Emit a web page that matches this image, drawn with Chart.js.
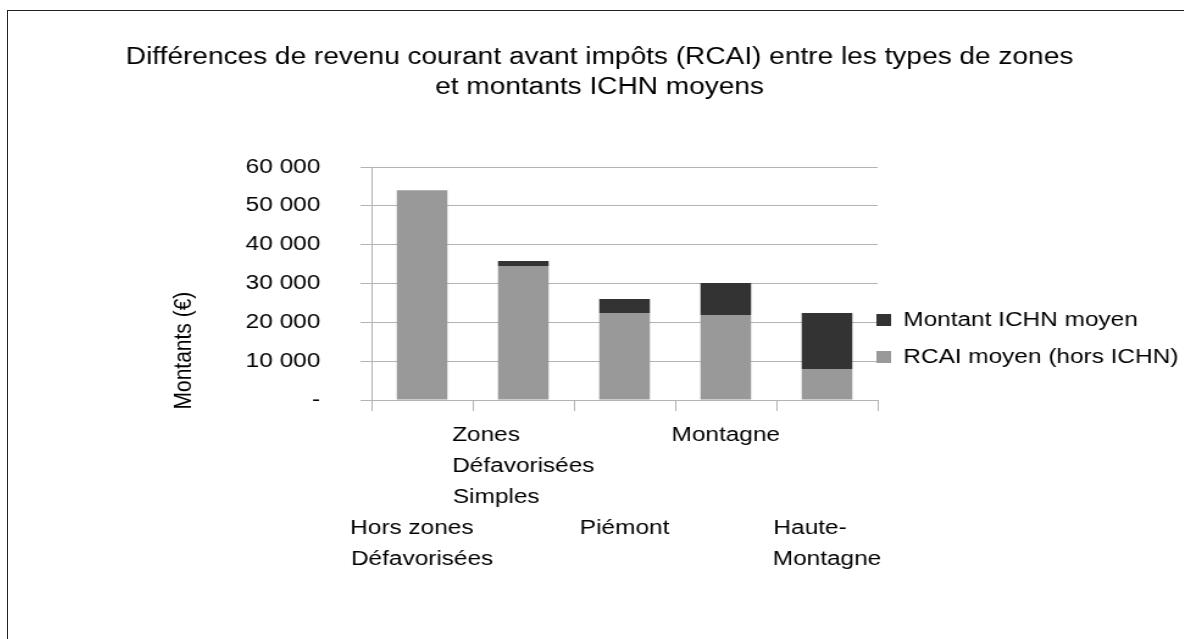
<!DOCTYPE html>
<html>
<head>
<meta charset="utf-8">
<script src="https://cdn.jsdelivr.net/npm/chart.js@4/dist/chart.umd.min.js"></script>
<style>
  html, body { margin: 0; padding: 0; background: #fff; }
  #frame {
    position: absolute; left: 7px; top: 10px;
    width: 1177px; height: 629px;
    border-top: 1px solid #222; border-left: 1px solid #222;
    overflow: hidden;
  }
  /* the original picture is stretched sideways, so the canvas is too */
  #frame canvas { display: block; width: 1177px !important; height: 629px !important; }
</style>
</head>
<body>
<div id="frame"><canvas id="rcaiChart" width="965" height="629"></canvas></div>
<script>
// categories (multi-line labels as in the original)
const categories = [
    ['Hors zones', 'Défavorisées'],
    ['Zones', 'Défavorisées', 'Simples'],
    ['Piémont'],
    ['Montagne'],
    ['Haute-', 'Montagne']
];
const rcaiValues = [54000, 34500, 22400, 21900, 8000];
const ichnValues = [0, 1300, 3600, 8200, 14400];
const yTicks = [0, 10000, 20000, 30000, 40000, 50000, 60000];

const titleLines = [
    'Différences de revenu courant avant impôts (RCAI) entre les types de zones',
    'et montants ICHN moyens'
];

const fontFamily = '"Liberation Sans", Arial, sans-serif';
Chart.defaults.font.family = fontFamily;
Chart.defaults.color = '#000';

// pad the short lines so a multi-line label reads left aligned
const measure = document.createElement('canvas').getContext('2d');
measure.font = '20px ' + fontFamily;
function leftAlign(lines) {
    const widest = Math.max(...lines.map(l => measure.measureText(l).width));
    const nb = measure.measureText('\u00a0').width;
    return lines.map(l => l + '\u00a0'.repeat(Math.round((widest - measure.measureText(l).width) / nb)));
}

// legend boxes sit close to the plot area in the original
const legendShift = {
    id: 'legendShift',
    afterLayout(chart) {
        chart.legend.left -= 18;
    }
};

const ctx = document.getElementById('rcaiChart');

new Chart(ctx, {
    type: 'bar',
    data: {
        labels: categories,
        datasets: [{
            label: 'RCAI moyen (hors ICHN)',
            data: rcaiValues,
            backgroundColor: '#999999',
            barPercentage: 0.5,
            categoryPercentage: 1
        }, {
            label: 'Montant ICHN moyen',
            data: ichnValues,
            backgroundColor: '#333333',
            barPercentage: 0.5,
            categoryPercentage: 1
        }]
    },
    plugins: [legendShift],
    options: {
        responsive: false,
        animation: false,
        layout: { padding: { top: 30, bottom: 4, left: 5, right: 0 } },
        plugins: {
            title: {
                display: true,
                text: titleLines,
                font: { size: 23, weight: 'normal', lineHeight: 30 / 23 },
                color: '#000',
                padding: { top: 2, bottom: 64 }
            },
            legend: {
                position: 'right',
                reverse: true,
                maxWidth: 252,
                labels: {
                    boxWidth: 12,
                    boxHeight: 12,
                    padding: 17,
                    font: { size: 20 },
                    color: '#000'
                }
            },
            tooltip: { enabled: false }
        },
        scales: {
            x: {
                stacked: true,
                grid: {
                    offset: true,
                    drawOnChartArea: true,
                    // only the right frame line of the plot area
                    color: (c) => c.index === categories.length ? '#b3b3b3' : 'rgba(0,0,0,0)',
                    tickColor: '#b3b3b3',
                    tickLength: 11
                },
                border: { color: '#b3b3b3' },
                ticks: {
                    autoSkip: false,
                    maxRotation: 0,
                    padding: 9,
                    font: { size: 20, lineHeight: 31 / 20 },
                    // alternate rows like the original
                    callback: function (value, index) {
                        const lines = leftAlign(categories[index]);
                        return index % 2 === 0 ? ['', '', ''].concat(lines) : lines;
                    }
                },
                afterFit: (scale) => { scale.height = 236; }
            },
            y: {
                stacked: true,
                min: 0,
                max: 60000,
                afterBuildTicks: (scale) => { scale.ticks = yTicks.map(v => ({ value: v })); },
                grid: { color: '#b3b3b3', tickLength: 9 },
                border: { color: '#b3b3b3' },
                ticks: {
                    padding: 33,
                    font: { size: 20 },
                    callback: (v) => v === 0 ? '-' : String(v).replace(/\B(?=(\d{3})+(?!\d))/g, ' ')
                },
                title: {
                    display: true,
                    // trailing spaces push the text down, as in the original
                    text: 'Montants (€)' + '\u00a0'.repeat(23),
                    font: { size: 21 },
                    padding: { top: 127, bottom: 0 }
                },
                afterFit: (scale) => { scale.width = 293; }
            }
        }
    }
});
</script>
</body>
</html>
